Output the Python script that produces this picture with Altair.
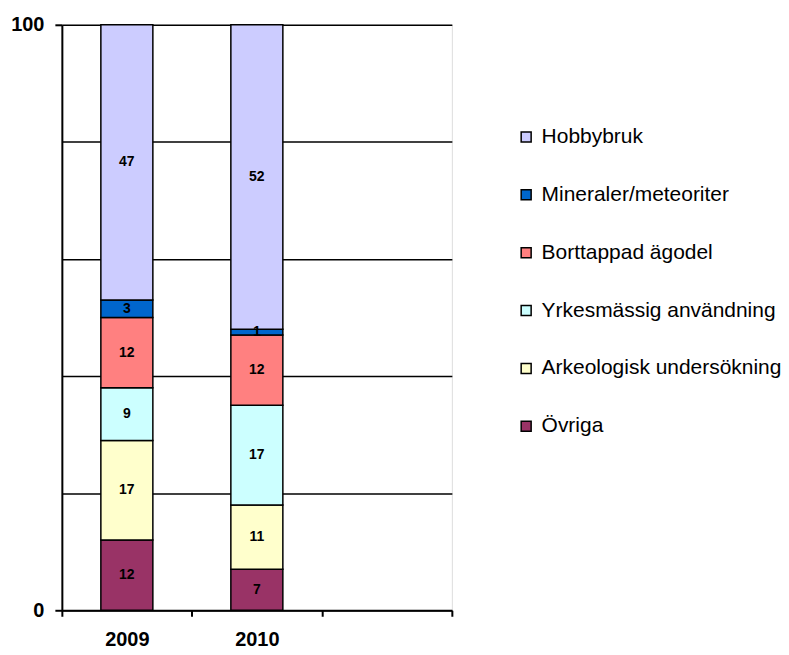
import altair as alt
import pandas as pd

years = ["2009", "2010"]
categories = ["Övriga", "Arkeologisk undersökning", "Yrkesmässig användning",
              "Borttappad ägodel", "Mineraler/meteoriter", "Hobbybruk"]
values_2009 = [12, 17, 9, 12, 3, 47]
values_2010 = [7, 11, 17, 12, 1, 52]
colors = ["#993366", "#FFFFCC", "#CCFFFF", "#FF8080", "#0066CC", "#CCCCFF"]
x_domain = ["2009", "2010", " "]

rows = []
for y, vals in zip(years, [values_2009, values_2010]):
    for i, (c, v) in enumerate(zip(categories, vals)):
        rows.append({"year": y, "cat": c, "value": v, "order": i})
df = pd.DataFrame(rows)

FONT = "Liberation Sans"

x_scale = alt.Scale(domain=x_domain, paddingInner=0, paddingOuter=0)
x_enc = alt.X("year:N", title=None, scale=x_scale,
              axis=alt.Axis(labelAngle=0, labelFont=FONT, labelFontSize=20,
                            labelFontWeight="bold", labelColor="black",
                            domainColor="black", domainWidth=2,
                            tickColor="black", tickWidth=2, tickSize=6,
                            tickBand="extent", labelPadding=13))

base = alt.Chart(df).transform_stack(
    stack="value", groupby=["year"], as_=["y0", "y1"],
    sort=[alt.SortField("order", order="ascending")]
)

bars = base.mark_bar(stroke="black", strokeWidth=1.5,
                     width=alt.RelativeBandSize(0.4)).encode(
    x=x_enc,
    y=alt.Y("y0:Q", title=None,
            scale=alt.Scale(domain=[0, 100], nice=False),
            axis=alt.Axis(values=[0, 20, 40, 60, 80, 100],
                          labelExpr="datum.value == 0 || datum.value == 100 ? datum.label : ''",
                          labelFont=FONT, labelFontSize=20, labelFontWeight="bold",
                          labelColor="black", labelPadding=11,
                          grid=True, gridColor="black", gridWidth=1.5, gridOpacity=1,
                          domainColor="black", domainWidth=2,
                          tickColor="black", tickWidth=2, tickSize=7,
                          tickOpacity={"condition": {"test": "datum.value == 0 || datum.value == 100", "value": 1}, "value": 0})),
    y2="y1:Q",
    color=alt.Color("cat:N", title=None,
                    scale=alt.Scale(domain=categories[::-1], range=colors[::-1]),
                    legend=alt.Legend(orient="none", legendX=455, legendY=102,
                                      symbolType="square", symbolSize=100,
                                      symbolStrokeColor="black", symbolStrokeWidth=1.5,
                                      labelFont=FONT, labelFontSize=21, labelColor="black",
                                      labelOffset=5, rowPadding=36, padding=0,
                                      labelLimit=400)),
)

labels = base.transform_calculate(mid="(datum.y0 + datum.y1) / 2").mark_text(
    font=FONT, fontSize=14, fontWeight="bold", color="black"
).encode(
    x=alt.X("year:N", scale=x_scale),
    y=alt.Y("mid:Q"),
    text=alt.Text("value:Q"),
)

chart = alt.layer(bars, labels).properties(
    width=391, height=587,
    autosize=alt.AutoSizeParams(type="none"),
    padding={"left": 54, "top": 16, "right": 330, "bottom": 42},
).configure_view(stroke=None).configure(background="white")

chart.save("out.html", embed_options={"renderer": "svg", "actions": False})
